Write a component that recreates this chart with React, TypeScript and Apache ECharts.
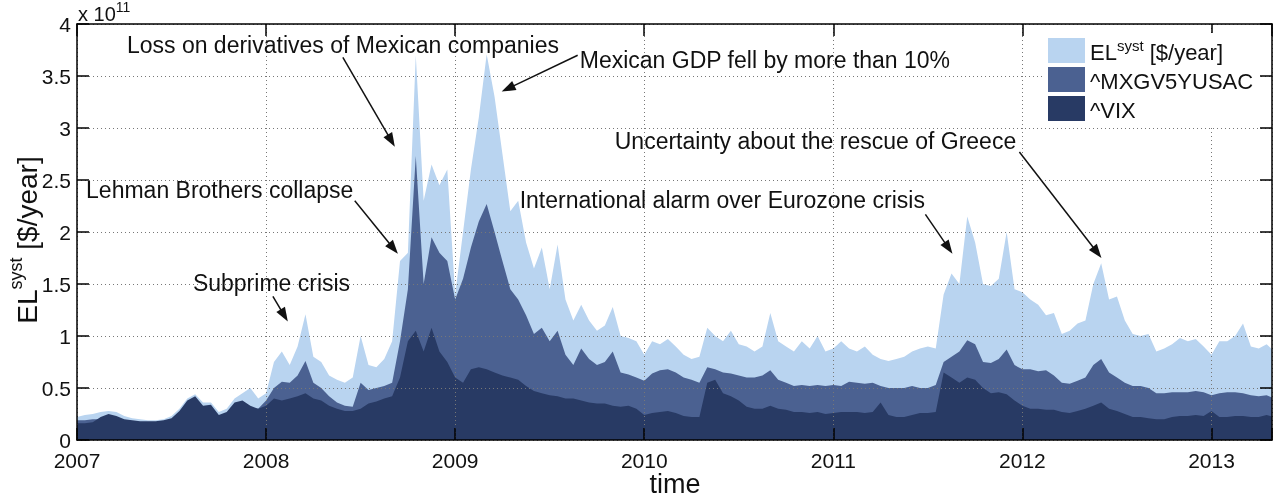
import React, { useEffect, useRef } from 'react';
import * as echarts from 'echarts';

// Sampling of the series: every half month starting Jan 2007
const START_YEAR = 2007;
const STEP_YEARS = 1 / 24;

// Values in units of 1e11 $/year
const elSyst = [
  0.22, 0.24, 0.25, 0.27, 0.28, 0.27, 0.23, 0.21, 0.20, 0.19,
  0.19, 0.20, 0.23, 0.30, 0.40, 0.44, 0.36, 0.36, 0.27, 0.30,
  0.40, 0.45, 0.50, 0.40, 0.45, 0.75, 0.85, 0.72, 0.90, 1.21,
  0.80, 0.75, 0.62, 0.58, 0.55, 0.60, 1.00, 0.72, 0.70, 0.78,
  0.95, 1.72, 1.80, 3.70, 2.30, 2.65, 2.45, 2.60, 1.40, 2.00,
  2.60, 3.10, 3.71, 3.30, 2.75, 2.20, 2.30, 1.90, 1.65, 1.85,
  1.45, 1.88, 1.35, 1.15, 1.30, 1.15, 1.05, 1.10, 1.28, 1.00,
  0.98, 0.95, 0.82, 0.95, 0.92, 0.97, 0.90, 0.82, 0.78, 0.80,
  1.08, 1.00, 0.95, 1.05, 0.92, 0.90, 0.85, 0.90, 1.22, 0.95,
  0.90, 0.85, 0.95, 0.88, 1.00, 0.85, 0.88, 0.95, 0.88, 0.85,
  0.90, 0.82, 0.78, 0.76, 0.78, 0.80, 0.85, 0.88, 0.90, 0.88,
  1.40, 1.60, 1.50, 2.15, 1.90, 1.50, 1.48, 1.55, 2.00, 1.45,
  1.42, 1.35, 1.30, 1.20, 1.22, 1.02, 1.05, 1.12, 1.15, 1.50,
  1.70, 1.35, 1.38, 1.15, 1.02, 1.00, 1.02, 0.85, 0.88, 0.92,
  0.98, 0.95, 0.97, 0.90, 0.82, 0.95, 0.95, 1.00, 1.12, 0.90,
  0.88, 0.92, 0.85,
];

const mxgv = [
  0.19, 0.19, 0.20, 0.20, 0.22, 0.20, 0.18, 0.17, 0.16, 0.16,
  0.16, 0.17, 0.18, 0.20, 0.22, 0.24, 0.22, 0.22, 0.20, 0.21,
  0.25, 0.28, 0.30, 0.30, 0.38, 0.50, 0.56, 0.55, 0.62, 0.76,
  0.55, 0.50, 0.42, 0.36, 0.33, 0.32, 0.55, 0.48, 0.50, 0.52,
  0.55, 0.95, 1.45, 2.73, 1.50, 1.95, 1.80, 1.72, 1.35, 1.55,
  1.85, 2.10, 2.27, 2.00, 1.72, 1.45, 1.35, 1.20, 1.02, 1.08,
  0.95, 1.05, 0.82, 0.72, 0.88, 0.78, 0.72, 0.75, 0.85, 0.65,
  0.63, 0.60, 0.57, 0.64, 0.67, 0.68, 0.65, 0.60, 0.58, 0.55,
  0.70, 0.68, 0.65, 0.64, 0.62, 0.60, 0.60, 0.62, 0.67, 0.58,
  0.55, 0.52, 0.53, 0.52, 0.53, 0.52, 0.53, 0.52, 0.56, 0.55,
  0.54, 0.55, 0.52, 0.50, 0.50, 0.50, 0.52, 0.50, 0.50, 0.53,
  0.75, 0.80, 0.85, 0.96, 0.92, 0.75, 0.74, 0.78, 0.87, 0.72,
  0.68, 0.68, 0.66, 0.67, 0.62, 0.55, 0.54, 0.57, 0.60, 0.72,
  0.78, 0.65, 0.60, 0.55, 0.52, 0.52, 0.50, 0.45, 0.45, 0.46,
  0.46, 0.46, 0.47, 0.46, 0.43, 0.45, 0.46, 0.46, 0.45, 0.43,
  0.42, 0.43, 0.40,
];

const vix = [
  0.16, 0.16, 0.17, 0.22, 0.25, 0.23, 0.20, 0.19, 0.18, 0.18,
  0.18, 0.19, 0.21, 0.28, 0.38, 0.42, 0.33, 0.34, 0.24, 0.27,
  0.36, 0.38, 0.33, 0.30, 0.33, 0.40, 0.38, 0.40, 0.42, 0.45,
  0.40, 0.38, 0.33, 0.30, 0.28, 0.28, 0.30, 0.35, 0.37, 0.40,
  0.42, 0.60, 0.95, 1.05, 0.85, 1.08, 0.85, 0.75, 0.60, 0.55,
  0.68, 0.70, 0.68, 0.65, 0.62, 0.60, 0.58, 0.52, 0.47, 0.45,
  0.43, 0.42, 0.40, 0.40, 0.38, 0.36, 0.35, 0.35, 0.33, 0.32,
  0.33, 0.30, 0.24, 0.26, 0.27, 0.28, 0.26, 0.23, 0.22, 0.22,
  0.55, 0.58, 0.45, 0.42, 0.38, 0.32, 0.30, 0.30, 0.33, 0.30,
  0.29, 0.27, 0.27, 0.26, 0.27, 0.25, 0.26, 0.27, 0.27, 0.27,
  0.26, 0.27, 0.36, 0.24, 0.22, 0.22, 0.24, 0.26, 0.26, 0.27,
  0.65, 0.60, 0.55, 0.60, 0.58, 0.50, 0.45, 0.46, 0.44, 0.38,
  0.33, 0.30, 0.30, 0.29, 0.29, 0.27, 0.26, 0.28, 0.30, 0.33,
  0.36, 0.30, 0.28, 0.25, 0.22, 0.22, 0.21, 0.20, 0.20, 0.22,
  0.23, 0.23, 0.24, 0.23, 0.28, 0.22, 0.22, 0.23, 0.23, 0.22,
  0.22, 0.24, 0.22,
];

const seriesNames = ['EL', '^MXGV5YUSAC', '^VIX'];
const seriesColors = ['#b9d4f0', '#4b6191', '#283a64'];

const X_MIN = 2007;
const X_MAX = 2013.32;
const Y_MAX = 4;

// Annotations: text anchor (left, middle), arrow tail and arrow tip, in data coordinates
const annotations = [
  { text: 'Loss on derivatives of Mexican companies', at: [2007.264, 3.80], from: [2008.406, 3.68], to: [2008.681, 2.82] },
  { text: 'Mexican GDP fell by more than 10%', at: [2009.659, 3.65], from: [2009.648, 3.70], to: [2009.246, 3.35] },
  { text: 'Lehman Brothers collapse', at: [2007.048, 2.40], from: [2008.469, 2.30], to: [2008.697, 1.79] },
  { text: 'Subprime crisis', at: [2007.613, 1.51], from: [2008.036, 1.38], to: [2008.115, 1.14] },
  { text: 'International alarm over Eurozone crisis', at: [2009.341, 2.31], from: [2011.487, 2.17], to: [2011.630, 1.79] },
  { text: 'Uncertainty about the rescue of Greece', at: [2009.844, 2.875], from: [2011.984, 2.77], to: [2012.418, 1.75] },
];

const FONT = '"Liberation Sans", Arial, Helvetica, sans-serif';

export default function App() {
  const ref = useRef<HTMLDivElement | null>(null);

  useEffect(() => {
    if (!ref.current) return;
    const chart = echarts.init(ref.current, undefined, { renderer: 'svg' });
    const times = elSyst.map((_, i) => START_YEAR + i * STEP_YEARS);
    const values = [elSyst, mxgv, vix];

    const axisCommonX = {
      type: 'value' as const,
      min: X_MIN,
      max: X_MAX,
      interval: 1,
      z: 3,
      axisLine: { show: true, onZero: false, lineStyle: { color: '#000', width: 1.5 } },
      axisTick: { show: true, inside: true, length: 12, lineStyle: { color: '#000', width: 1.5 } },
    };
    const axisCommonY = {
      type: 'value' as const,
      min: 0,
      max: Y_MAX,
      interval: 0.5,
      z: 3,
      axisLine: { show: true, onZero: false, lineStyle: { color: '#000', width: 1.5 } },
      axisTick: { show: true, inside: true, length: 12, lineStyle: { color: '#000', width: 1.5 } },
    };
    const gridLine = { show: true, lineStyle: { color: '#777777', width: 1, type: [1, 3] as any } };

    chart.setOption({
      animation: false,
      textStyle: { fontFamily: FONT },
      grid: { left: 77, top: 24, right: 2, bottom: 58, containLabel: false },
      xAxis: [
        {
          ...axisCommonX,
          position: 'bottom',
          splitLine: gridLine,
          axisLabel: {
            show: true,
            margin: 10,
            color: '#111',
            fontSize: 21,
            lineHeight: 21,
            fontFamily: FONT,
            formatter: (v: number) => (Number.isInteger(v) ? String(v) : ''),
          },
        },
        { ...axisCommonX, position: 'top', splitLine: { show: false }, axisLabel: { show: false } },
      ],
      yAxis: [
        {
          ...axisCommonY,
          position: 'left',
          splitLine: gridLine,
          axisLabel: {
            show: true,
            margin: 6,
            color: '#111',
            fontSize: 21,
            lineHeight: 17,
            fontFamily: FONT,
            formatter: (v: number) => String(v),
          },
        },
        { ...axisCommonY, position: 'right', splitLine: { show: false }, axisLabel: { show: false } },
      ],
      legend: {
        show: true,
        orient: 'vertical',
        left: 1043,
        top: 33,
        padding: [5, 6, 5, 5],
        backgroundColor: '#ffffff',
        borderWidth: 0,
        itemWidth: 37,
        itemHeight: 25,
        itemGap: 4,
        icon: 'rect',
        z: 10,
        data: seriesNames,
        formatter: (name: string) => (name === 'EL' ? '{a|EL}{s|syst}{a| [$/year]}' : '{a|' + name + '}'),
        textStyle: {
          fontFamily: FONT,
          color: '#111',
          rich: {
            a: { fontSize: 22, fontFamily: FONT, color: '#111', lineHeight: 25, verticalAlign: 'bottom' },
            s: { fontSize: 15, fontFamily: FONT, color: '#111', lineHeight: 16, verticalAlign: 'top' },
          },
        },
      },
      series: seriesNames.map((name, k) => ({
        name,
        type: 'line',
        xAxisIndex: 0,
        yAxisIndex: 0,
        data: times.map((t, i) => [t, values[k][i]]),
        showSymbol: false,
        symbol: 'none',
        lineStyle: { width: 0, color: seriesColors[k] },
        itemStyle: { color: seriesColors[k] },
        areaStyle: { color: seriesColors[k], opacity: 1 },
        z: 2,
        silent: true,
      })),
    });

    const toPx = (p: number[]) => chart.convertToPixel({ gridIndex: 0 }, p) as number[];
    const graphics: any[] = [];
    annotations.forEach((a) => {
      const at = toPx(a.at);
      const from = toPx(a.from);
      const to = toPx(a.to);
      graphics.push({
        type: 'text',
        x: at[0],
        y: at[1],
        z: 100,
        style: { text: a.text, fontSize: 23, fontFamily: FONT, fill: '#111', align: 'left', verticalAlign: 'middle' },
      });
      const dx = to[0] - from[0];
      const dy = to[1] - from[1];
      const len = Math.sqrt(dx * dx + dy * dy);
      const ux = dx / len;
      const uy = dy / len;
      const headL = 14;
      const headW = 5;
      const bx = to[0] - ux * headL;
      const by = to[1] - uy * headL;
      graphics.push({
        type: 'line',
        z: 100,
        shape: { x1: from[0], y1: from[1], x2: bx + ux * 2, y2: by + uy * 2 },
        style: { stroke: '#111', lineWidth: 1.5 },
      });
      graphics.push({
        type: 'polygon',
        z: 100,
        shape: {
          points: [
            [to[0], to[1]],
            [bx - uy * headW, by + ux * headW],
            [bx + uy * headW, by - ux * headW],
          ],
        },
        style: { fill: '#111' },
      });
    });

    // Multiplier label
    graphics.push({
      type: 'text',
      x: 78,
      y: 12,
      z: 100,
      style: {
        text: '{m|x 10}{s|11}',
        align: 'left',
        verticalAlign: 'middle',
        rich: {
          m: { fontSize: 20, fontFamily: FONT, fill: '#111', lineHeight: 24, verticalAlign: 'bottom' },
          s: { fontSize: 14, fontFamily: FONT, fill: '#111', lineHeight: 14, verticalAlign: 'top' },
        },
      },
    });
    // Axis titles
    graphics.push({
      type: 'text',
      x: 675,
      y: 484,
      z: 100,
      style: { text: 'time', fontSize: 27, lineHeight: 27, fontFamily: FONT, fill: '#111', align: 'center', verticalAlign: 'middle' },
    });
    graphics.push({
      type: 'text',
      x: 24,
      y: 240,
      rotation: Math.PI / 2,
      z: 100,
      style: {
        text: '{a|EL}{s|syst}{a| [$/year]}',
        align: 'center',
        verticalAlign: 'middle',
        rich: {
          a: { fontSize: 28, fontFamily: FONT, fill: '#111', lineHeight: 34, verticalAlign: 'bottom' },
          s: { fontSize: 18, fontFamily: FONT, fill: '#111', lineHeight: 20, verticalAlign: 'top' },
        },
      },
    });

    chart.setOption({ graphic: graphics });

    return () => {
      chart.dispose();
    };
  }, []);

  return <div ref={ref} style={{ position: 'fixed', left: 0, top: 0, width: 1275, height: 498 }} />;
}
